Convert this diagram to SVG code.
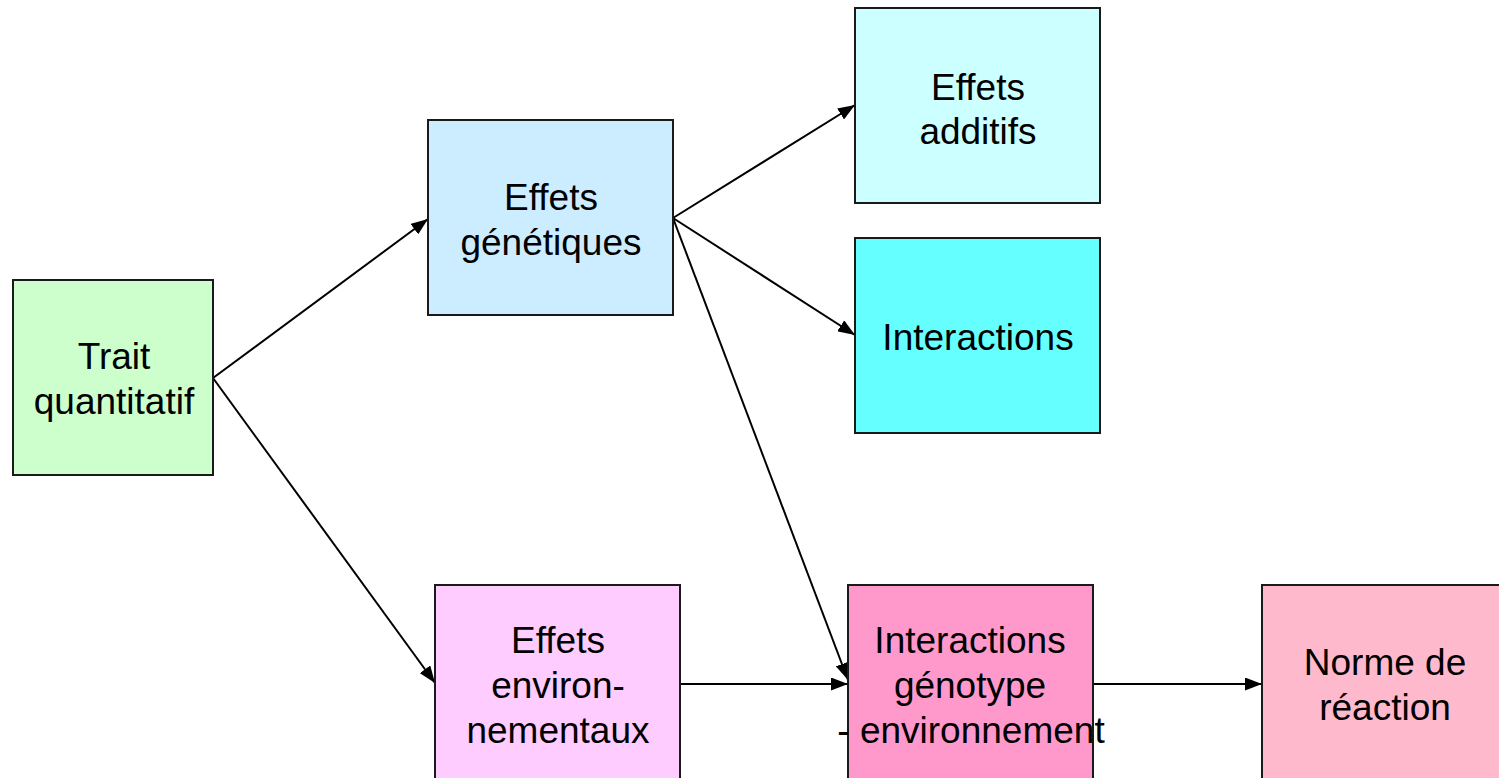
<svg xmlns="http://www.w3.org/2000/svg" width="1499" height="778" viewBox="0 0 1499 778">
<style>
.box{stroke:#1a1a1a;stroke-width:2}
.t{font-family:"Liberation Sans",Arial,sans-serif;font-size:37px;fill:#000;text-anchor:middle}
.c{stroke:#000;stroke-width:2;fill:none;marker-end:url(#ah)}
</style>
<defs>
<marker id="ah" viewBox="0 0 17 13" refX="17" refY="6.5" markerWidth="17" markerHeight="13" markerUnits="userSpaceOnUse" orient="auto">
<path d="M0,0 L17,6.5 L0,13 Z" fill="#000"/>
</marker>
</defs>
<rect width="1499" height="778" fill="#fff"/>
<g id="connectors">
<line class="c" x1="213" y1="378" x2="428" y2="219"/>
<line class="c" x1="213" y1="378" x2="435" y2="683"/>
<line class="c" x1="673" y1="218" x2="855" y2="105"/>
<line class="c" x1="673" y1="218" x2="855" y2="335"/>
<line class="c" x1="673" y1="218" x2="848" y2="680"/>
<line class="c" x1="680" y1="684" x2="848" y2="684"/>
<line class="c" x1="1093" y1="684" x2="1262" y2="684"/>
</g>
<g id="trait">
<rect class="box" x="13" y="280" width="200" height="195" fill="#CCFFCC"/>
<text class="t" x="114" y="369">Trait</text>
<text class="t" x="114" y="414">quantitatif</text>
</g>
<g id="genetiques">
<rect class="box" x="428" y="120" width="245" height="195" fill="#CCECFF"/>
<text class="t" x="551" y="210">Effets</text>
<text class="t" x="551" y="255">génétiques</text>
</g>
<g id="additifs">
<rect class="box" x="855" y="8" width="245" height="195" fill="#CCFFFF"/>
<text class="t" x="978" y="100">Effets</text>
<text class="t" x="978" y="144">additifs</text>
</g>
<g id="interactions">
<rect class="box" x="855" y="238" width="245" height="195" fill="#66FFFF"/>
<text class="t" x="978" y="350">Interactions</text>
</g>
<g id="environnementaux">
<rect class="box" x="435" y="585" width="245" height="200" fill="#FFCCFF"/>
<text class="t" x="558" y="653">Effets</text>
<text class="t" x="558" y="698">environ-</text>
<text class="t" x="558" y="743">nementaux</text>
</g>
<g id="gxe">
<rect class="box" x="848" y="585" width="245" height="200" fill="#FF99CC"/>
<text class="t" x="970" y="653">Interactions</text>
<text class="t" x="970" y="698">génotype</text>
<text class="t" x="971" y="743">- environnement</text>
</g>
<g id="norme">
<rect class="box" x="1262" y="585" width="245" height="200" fill="#FFB9CC"/>
<text class="t" x="1385" y="675">Norme de</text>
<text class="t" x="1385" y="720">réaction</text>
</g>
</svg>
